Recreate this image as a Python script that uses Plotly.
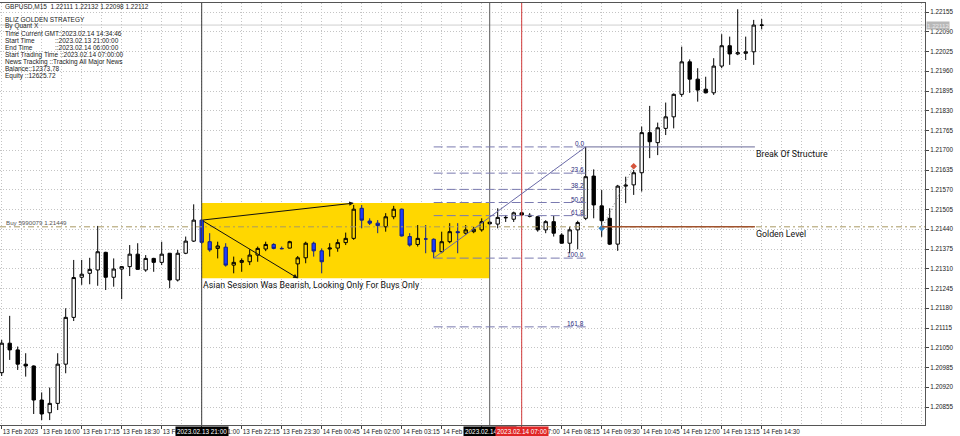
import plotly.graph_objects as go
import pandas as pd

# ---------------- data ----------------
BAR_TIMES = pd.date_range("2023-02-13 14:45", periods=96, freq="15min")

OPEN = [1.20968, 1.21065, 1.21043, 1.20996, 1.20990, 1.20878, 1.20836, 1.20867, 1.20996, 1.21150,
        1.21282, 1.21295, 1.21306, 1.21364, 1.21282, 1.21309, 1.21317, 1.21358, 1.21306, 1.21344,
        1.21331, 1.21361, 1.21273, 1.21361, 1.21401, 1.21470, 1.21399, 1.21377, 1.21381, 1.21322,
        1.21331, 1.21333, 1.21355, 1.21375, 1.21390, 1.21377, 1.21378, 1.21326, 1.21346, 1.21394,
        1.21369, 1.21375, 1.21378, 1.21396, 1.21410, 1.21509, 1.21467, 1.21460, 1.21448, 1.21481,
        1.21506, 1.21416, 1.21390, 1.21408, 1.21407, 1.21366, 1.21399, 1.21432, 1.21427, 1.21432,
        1.21438, 1.21463, 1.21457, 1.21479, 1.21473, 1.21494, 1.21486, 1.21481, 1.21438, 1.21465,
        1.21421, 1.21394, 1.21438, 1.21476, 1.21615, 1.21517, 1.21476, 1.21391, 1.21582, 1.21586,
        1.21626, 1.21758, 1.21725, 1.21772, 1.21810, 1.21884, 1.21991, 1.21934, 1.21901, 1.21889,
        1.21977, 1.22044, 1.22017, 1.22019, 1.22024, 1.22111]
HIGH = [1.21076, 1.21155, 1.21054, 1.21032, 1.20992, 1.20903, 1.20919, 1.21032, 1.21180, 1.21339,
        1.21339, 1.21346, 1.21451, 1.21366, 1.21344, 1.21319, 1.21388, 1.21394, 1.21355, 1.21346,
        1.21399, 1.21362, 1.21372, 1.21416, 1.21522, 1.21472, 1.21427, 1.21399, 1.21394, 1.21350,
        1.21344, 1.21374, 1.21383, 1.21399, 1.21394, 1.21383, 1.21402, 1.21352, 1.21399, 1.21399,
        1.21377, 1.21394, 1.21407, 1.21429, 1.21520, 1.21520, 1.21476, 1.21470, 1.21493, 1.21517,
        1.21508, 1.21427, 1.21454, 1.21454, 1.21410, 1.21432, 1.21460, 1.21460, 1.21454, 1.21448,
        1.21476, 1.21467, 1.21509, 1.21487, 1.21498, 1.21498, 1.21493, 1.21484, 1.21470, 1.21484,
        1.21427, 1.21448, 1.21468, 1.21711, 1.21637, 1.21569, 1.21509, 1.21586, 1.21613, 1.21635,
        1.21778, 1.21846, 1.21791, 1.21857, 1.21887, 1.22041, 1.21999, 1.21970, 1.21942, 1.22003,
        1.22082, 1.22074, 1.22164, 1.22074, 1.22129, 1.22132]
LOW = [1.20957, 1.21010, 1.20977, 1.20955, 1.20832, 1.20812, 1.20812, 1.20845, 1.20966, 1.21138,
       1.21257, 1.21259, 1.21254, 1.21240, 1.21251, 1.21210, 1.21286, 1.21306, 1.21300, 1.21300,
       1.21322, 1.21246, 1.21268, 1.21358, 1.21398, 1.21392, 1.21366, 1.21344, 1.21317, 1.21295,
       1.21300, 1.21322, 1.21333, 1.21368, 1.21374, 1.21374, 1.21377, 1.21279, 1.21328, 1.21350,
       1.21295, 1.21350, 1.21366, 1.21388, 1.21405, 1.21443, 1.21454, 1.21427, 1.21432, 1.21473,
       1.21416, 1.21383, 1.21383, 1.21361, 1.21345, 1.21361, 1.21394, 1.21361, 1.21421, 1.21427,
       1.21432, 1.21454, 1.21443, 1.21464, 1.21464, 1.21484, 1.21479, 1.21432, 1.21427, 1.21416,
       1.21393, 1.21361, 1.21374, 1.21470, 1.21476, 1.21415, 1.21388, 1.21369, 1.21526, 1.21553,
       1.21564, 1.21674, 1.21684, 1.21750, 1.21772, 1.21876, 1.21889, 1.21860, 1.21887, 1.21882,
       1.21970, 1.21981, 1.22013, 1.21997, 1.21981, 1.22098]
CLOSE = [1.21065, 1.21043, 1.20996, 1.20990, 1.20878, 1.20832, 1.20867, 1.20996, 1.21150, 1.21281,
         1.21292, 1.21308, 1.21366, 1.21282, 1.21309, 1.21317, 1.21358, 1.21308, 1.21344, 1.21331,
         1.21358, 1.21273, 1.21361, 1.21401, 1.21470, 1.21397, 1.21372, 1.21385, 1.21322, 1.21331,
         1.21337, 1.21355, 1.21377, 1.21390, 1.21377, 1.21376, 1.21399, 1.21346, 1.21394, 1.21369,
         1.21333, 1.21378, 1.21396, 1.21410, 1.21506, 1.21470, 1.21460, 1.21452, 1.21481, 1.21506,
         1.21418, 1.21388, 1.21410, 1.21408, 1.21366, 1.21399, 1.21432, 1.21429, 1.21438, 1.21440,
         1.21465, 1.21458, 1.21479, 1.21478, 1.21494, 1.21487, 1.21483, 1.21438, 1.21465, 1.21427,
         1.21394, 1.21438, 1.21462, 1.21613, 1.21520, 1.21468, 1.21391, 1.21582, 1.21585, 1.21626,
         1.21758, 1.21728, 1.21774, 1.21810, 1.21884, 1.21991, 1.21934, 1.21898, 1.21889, 1.21977,
         1.22044, 1.22017, 1.22021, 1.22024, 1.22112, 1.22112]

TICK_LABELS = ["13 Feb 2023", "13 Feb 16:00", "13 Feb 17:15", "13 Feb 18:30", "13 Feb 19:45",
               "13 Feb 21:00", "13 Feb 22:15", "13 Feb 23:30", "14 Feb 00:45", "14 Feb 02:00",
               "14 Feb 03:15", "14 Feb 04:30", "14 Feb 05:45", "14 Feb 07:00", "14 Feb 08:15",
               "14 Feb 09:30", "14 Feb 10:45", "14 Feb 12:00", "14 Feb 13:15", "14 Feb 14:30"]

SESSION_START = "2023-02-13 21:00"
SESSION_END = "2023-02-14 06:00"
TRADING_START = "2023-02-14 07:00"
BOX_HIGH = 1.21526
BOX_LOW = 1.21279
FIB_LOW_BAR, FIB_HIGH_BAR = 54, 73
FIB_LEVELS = [0.0, 23.6, 38.2, 50.0, 61.8, 100.0, 161.8]
GOLDEN_LEVEL = 1.21448
ORDER_PRICE = 1.21448
BID = 1.22112
BLUE_DOT = (75, 1.21443)
RED_DOT = (79, 1.21647)

INFO_LINES = [
    ("GBPUSD,M15  1.22111 1.22132 1.22098 1.22112", None),
    ("BLIZ GOLDEN STRATEGY", None),
    ("By Quant X", None),
    ("Time Current GMT::2023.02.14 14:34:46", None),
    ("Start Time", "::2023.02.13 21:00:00"),
    ("End Time", "::2023.02.14 06:00:00"),
    ("Start Trading Time ::2023.02.14 07:00:00", None),
    ("News Tracking ::Tracking All Major News", None),
    ("Balance::12373.78", None),
    ("Equity ::12625.72", None),
]
INFO_Y = [6, 19.5, 26, 33.5, 40.5, 47.5, 54.5, 61.5, 68.5, 75.5]

# ---------------- figure ----------------
W, H = 960, 436
ML, MR, MT, MB = 0, 35, 3, 11
idx = list(range(len(OPEN)))
t_index = {t.strftime("%Y-%m-%d %H:%M"): i for i, t in enumerate(BAR_TIMES)}
s0, s1, s2 = t_index[SESSION_START], t_index[SESSION_END], t_index[TRADING_START]

def pick(arr, ids):
    return [arr[i] for i in ids]

outside = [i for i in idx if i < s0 or i >= s1]
inside = [i for i in idx if s0 <= i < s1]

fig = go.Figure()
fig.add_trace(go.Candlestick(
    x=outside, open=pick(OPEN, outside), high=pick(HIGH, outside),
    low=pick(LOW, outside), close=pick(CLOSE, outside),
    increasing=dict(line=dict(color="black", width=1), fillcolor="white"),
    decreasing=dict(line=dict(color="black", width=1), fillcolor="black"),
    whiskerwidth=0, showlegend=False, hoverinfo="skip"))
fig.add_trace(go.Candlestick(
    x=inside, open=pick(OPEN, inside), high=pick(HIGH, inside),
    low=pick(LOW, inside), close=pick(CLOSE, inside),
    increasing=dict(line=dict(color="black", width=1), fillcolor="rgba(0,0,0,0)"),
    decreasing=dict(line=dict(color="#10208a", width=1), fillcolor="#1f3cff"),
    whiskerwidth=0, showlegend=False, hoverinfo="skip"))

fib_hi = HIGH[FIB_HIGH_BAR]
fib_lo = LOW[FIB_LOW_BAR]
fib_prices = [fib_hi - (fib_hi - fib_lo) * lv / 100 for lv in FIB_LEVELS]
BOS_END = 94.15

shapes = []
shapes.append(dict(type="rect", xref="x", yref="y", x0=s0, x1=s1, y0=BOX_LOW, y1=BOX_HIGH,
                   fillcolor="#FFD700", line=dict(width=0), layer="between"))
shapes.append(dict(type="line", xref="paper", yref="y", x0=0, x1=1, y0=BID, y1=BID,
                   line=dict(color="#cfcfcf", width=1), layer="between"))
shapes.append(dict(type="line", xref="x", yref="paper", x0=s0, x1=s0, y0=0, y1=1,
                   line=dict(color="#3a3a3a", width=1)))
shapes.append(dict(type="line", xref="x", yref="paper", x0=s1, x1=s1, y0=0, y1=1,
                   line=dict(color="#5a5a5a", width=1)))
shapes.append(dict(type="line", xref="x", yref="paper", x0=s2, x1=s2, y0=0, y1=1,
                   line=dict(color="#d23a3a", width=1)))
shapes.append(dict(type="line", xref="paper", yref="y", x0=0, x1=1, y0=ORDER_PRICE, y1=ORDER_PRICE,
                   line=dict(color="#a99a62", width=1, dash="6px,3px,2px,3px")))
for p in fib_prices:
    shapes.append(dict(type="line", xref="x", yref="y", x0=FIB_LOW_BAR, x1=FIB_HIGH_BAR, y0=p, y1=p,
                       line=dict(color="#7a7ab0", width=1, dash="9px,4px")))
shapes.append(dict(type="line", xref="x", yref="y", x0=FIB_LOW_BAR, x1=FIB_HIGH_BAR, y0=fib_lo, y1=fib_hi,
                   line=dict(color="#6a6aa8", width=1)))
shapes.append(dict(type="line", xref="x", yref="y", x0=FIB_HIGH_BAR, x1=BOS_END, y0=fib_hi, y1=fib_hi,
                   line=dict(color="#6a6a98", width=1)))
shapes.append(dict(type="line", xref="x", yref="y", x0=BLUE_DOT[0], x1=BOS_END, y0=GOLDEN_LEVEL, y1=GOLDEN_LEVEL,
                   line=dict(color="#a0522d", width=1.5)))
shapes.append(dict(type="line", xref="x", yref="y", x0=BLUE_DOT[0], x1=RED_DOT[0], y0=BLUE_DOT[1], y1=RED_DOT[1],
                   line=dict(color="#808080", width=1, dash="1px,2px")))

fig.add_trace(go.Scatter(x=[BLUE_DOT[0], RED_DOT[0]], y=[BLUE_DOT[1], RED_DOT[1]], mode="markers",
                         marker=dict(size=5, color=["#2f7fc0", "#d9533a"], symbol="diamond"),
                         showlegend=False, hoverinfo="skip"))

ann = []
TXT = "#222222"
LBL = dict(family="Roboto", size=8.8, color="#111")
ann.append(dict(x=44, y=BOX_HIGH, ax=s0, ay=OPEN[s0], xref="x", yref="y", axref="x", ayref="y",
                text="", showarrow=True, arrowhead=2, arrowsize=0.9, arrowwidth=1, arrowcolor="#111"))
ann.append(dict(x=37, y=BOX_LOW, ax=s0, ay=OPEN[s0], xref="x", yref="y", axref="x", ayref="y",
                text="", showarrow=True, arrowhead=2, arrowsize=0.9, arrowwidth=1, arrowcolor="#111"))
ann.append(dict(x=s0, y=BOX_LOW, xref="x", yref="y", xanchor="left", yanchor="top", showarrow=False,
                text="Asian Session Was Bearish, Looking Only For Buys Only", xshift=-1, yshift=0, font=LBL))
ann.append(dict(x=BOS_END, y=fib_hi, xref="x", yref="y", xanchor="left", yanchor="top", showarrow=False,
                text="Break Of Structure", xshift=-1, yshift=0, font=LBL))
ann.append(dict(x=BOS_END, y=GOLDEN_LEVEL, xref="x", yref="y", xanchor="left", yanchor="top", showarrow=False,
                text="Golden Level", xshift=-1, yshift=0, font=LBL))
for lv, p in zip(FIB_LEVELS, fib_prices):
    ann.append(dict(x=FIB_HIGH_BAR, y=p, xref="x", yref="y", xanchor="right", yanchor="bottom",
                    showarrow=False, text=f"{lv:.1f}", xshift=0, yshift=-2,
                    font=dict(family="Liberation Sans", size=6.5, color="#2e2e7e")))
ann.append(dict(x=0, y=ORDER_PRICE, xref="paper", yref="y", xanchor="left", yanchor="bottom",
                showarrow=False, text="Buy 5990079 1.21449", xshift=4, yshift=-1,
                font=dict(family="Liberation Sans", size=6.2, color="#555")))
for xi, label, col in [(s0, "2023.02.13 21:00", "black"), (s1, "2023.02.14 06:00", "black"),
                       (s2, "2023.02.14 07:00", "#e02626")]:
    ann.append(dict(x=xi, y=0, xref="x", yref="paper", xanchor="center", yanchor="top", showarrow=False,
                    text=label, yshift=-1, bgcolor=col, borderpad=1,
                    font=dict(family="Liberation Sans", size=6.4, color="white")))
ann.append(dict(x=1, y=BID, xref="paper", yref="y", xanchor="left", yanchor="middle", showarrow=False,
                text=f"{BID:.5f}", xshift=1, bgcolor="#b8b8b8", borderpad=0,
                font=dict(family="Liberation Sans", size=6.2, color="#e8e8e8")))
pw, ph = W - ML - MR, H - MT - MB
for (a, b), yp in zip(INFO_LINES, INFO_Y):
    for txt, xp in ((a, 3), (b, 53)):
        if txt:
            ann.append(dict(x=(xp - ML) / pw, y=1 - (yp - MT) / ph, xref="paper", yref="paper",
                            xanchor="left", yanchor="middle", showarrow=False, text=txt,
                            font=dict(family="Liberation Sans", size=6.5, color=TXT)))

x_left = -1.7 / 8
x_right = (925 - 1.7) / 8
y_top = 1.22155 + 9 / 30385
y_bot = 1.22155 - 413 / 30385

GRID = dict(showgrid=True, gridcolor="#c4c4c4", gridwidth=1, griddash="1px,2px")
fig.update_layout(
    template="none",
    width=W, height=H, margin=dict(l=ML, r=MR, t=MT, b=MB, autoexpand=False),
    paper_bgcolor="white", plot_bgcolor="white", showlegend=False,
    shapes=shapes, annotations=ann, hovermode=False, boxgap=0.4,
    xaxis=dict(range=[x_left, x_right], rangeslider=dict(visible=False), automargin=False,
               tickmode="array", tickvals=list(range(0, 96, 5)), ticktext=TICK_LABELS, tickangle=0,
               ticks="outside", ticklen=3, tickcolor="#444", ticklabelposition="outside right",
               tickfont=dict(family="Liberation Sans", size=6.3, color=TXT),
               showline=True, mirror=True, linecolor="#555", linewidth=1, zeroline=False,
               minor=dict(dtick=2.5, tick0=0, ticklen=0, **GRID), **GRID),
    yaxis=dict(range=[y_bot, y_top], side="right", tick0=1.20855, dtick=0.00065, tickformat=".5f",
               automargin=False, tickmode="linear",
               ticks="outside", ticklen=3, tickcolor="#444",
               tickfont=dict(family="Liberation Sans", size=6.3, color=TXT),
               showline=True, mirror=True, linecolor="#555", linewidth=1, zeroline=False, **GRID),
)

fig.write_html("out.html", config={"displayModeBar": False},
               post_script="document.body.style.margin='0px';document.body.style.overflow='hidden';")
